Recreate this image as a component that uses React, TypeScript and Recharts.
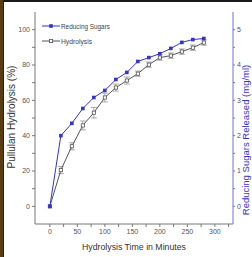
import {
  ComposedChart,
  Line,
  XAxis,
  YAxis,
  ErrorBar,
} from "recharts";

const minutes = [0, 20, 40, 60, 80, 100, 120, 140, 160, 180, 200, 220, 240, 260, 280];
const hydrolysis = [0, 20.5, 34, 45.8, 53, 61.6, 67.2, 71.2, 75.1, 80.2, 84.2, 85.3, 87.6, 89.8, 92.7];
const hydrolysisErr = [0, 2, 2, 2.5, 3, 2.5, 2, 2, 1.5, 1.5, 1.5, 1.5, 1.5, 1.5, 1.5];
const sugars = [0, 2.0, 2.35, 2.77, 3.08, 3.28, 3.59, 3.79, 4.1, 4.21, 4.32, 4.47, 4.64, 4.72, 4.75];

const xTicks = [0, 25, 50, 75, 100, 125, 150, 175, 200, 225, 250, 275, 300, 325];
const leftTicks = [0, 10, 20, 30, 40, 50, 60, 70, 80, 90, 100];
const rightTicks = [0, 0.5, 1, 1.5, 2, 2.5, 3, 3.5, 4, 4.5, 5];

const data = minutes.map((m, i) => ({
  minutes: m,
  hydrolysis: hydrolysis[i],
  err: hydrolysisErr[i],
  sugars: sugars[i],
}));

const BLUE = "#3434c8";
const DARK = "#555";
const AXIS = "#777";
const FONT = "'Liberation Sans', Arial, sans-serif";

const BlueDot = (p: any) =>
  p.cx == null ? null : (
    <rect key={p.index} x={p.cx - 1.8} y={p.cy - 1.8} width={3.6} height={3.6} fill={BLUE} />
  );

const OpenDot = (p: any) =>
  p.cx == null ? null : (
    <rect
      key={p.index}
      x={p.cx - 1.6}
      y={p.cy - 1.6}
      width={3.2}
      height={3.2}
      fill="#fff"
      stroke={DARK}
      strokeWidth={0.8}
    />
  );

function Overlay() {
  return (
    <svg
      width={252}
      height={257}
      style={{ position: "absolute", left: 0, top: 0, pointerEvents: "none" }}
      fontFamily={FONT}
    >
      <line x1={42} x2={60} y1={26} y2={26} stroke={BLUE} strokeWidth={1} />
      <rect x={49.2} y={24.2} width={3.6} height={3.6} fill={BLUE} />
      <text x={61} y={29} fontSize={7.5} fill="#444" textLength={49} lengthAdjust="spacingAndGlyphs">
        Reducing Sugars
      </text>
      <line x1={42} x2={60} y1={41} y2={41} stroke={DARK} strokeWidth={1} />
      <rect x={49.4} y={39.4} width={3.2} height={3.2} fill="#fff" stroke={DARK} strokeWidth={0.8} />
      <text x={61} y={44} fontSize={7.5} fill="#444" textLength={31} lengthAdjust="spacingAndGlyphs">
        Hydrolysis
      </text>
      <text
        transform="translate(15,117) rotate(-90)"
        textAnchor="middle"
        fontSize={10}
        fill="#333"
      >
        Pullulan Hydrolysis (%)
      </text>
      <text
        transform="translate(248.5,140) rotate(-90)"
        textAnchor="middle"
        fontSize={9.5}
        fill={BLUE}
      >
        Reducing Sugars Released (mg/ml)
      </text>
      <text x={134} y={250} textAnchor="middle" fontSize={9.5} fill="#333" textLength={104} lengthAdjust="spacingAndGlyphs">
        Hydrolysis Time in Minutes
      </text>
    </svg>
  );
}

export default function App() {
  return (
    <div
      style={{
        position: "absolute",
        left: 0,
        top: 0,
        width: 252,
        height: 257,
        background: "#fff",
        fontFamily: FONT,
      }}
    >
      <ComposedChart
        width={252}
        height={257}
        data={data}
        margin={{ top: 12, right: 0, bottom: 0, left: 0 }}
      >
        <XAxis
          xAxisId="bottom"
          dataKey="minutes"
          type="number"
          domain={[-27, 333]}
          ticks={xTicks}
          interval={0}
          allowDataOverflow
          height={33}
          stroke={AXIS}
          tickSize={3}
          tick={{ fontSize: 7, fill: "#555" }}
          tickFormatter={(v: number) => (v % 50 === 0 ? String(v) : "")}
        />
        <XAxis
          xAxisId="top"
          dataKey="minutes"
          type="number"
          orientation="top"
          domain={[-27, 333]}
          ticks={xTicks}
          interval={0}
          allowDataOverflow
          height={0}
          mirror
          stroke={AXIS}
          tickSize={3}
          tickFormatter={() => ""}
        />
        <YAxis
          yAxisId="left"
          domain={[-10, 110]}
          ticks={leftTicks}
          interval={0}
          width={35}
          stroke={AXIS}
          tickSize={3}
          tick={{ fontSize: 7, fill: "#555" }}
          tickFormatter={(v: number) => (v % 20 === 0 ? String(v) : "")}
        />
        <YAxis
          yAxisId="right"
          orientation="right"
          domain={[-0.5, 5.5]}
          ticks={rightTicks}
          interval={0}
          width={19}
          stroke="#7070d8"
          tickSize={2}
          tick={{ fontSize: 7, fill: "#555" }}
          tickFormatter={(v: number) => (Number.isInteger(v) ? String(v) : "")}
        />
        <Line
          xAxisId="bottom"
          yAxisId="left"
          dataKey="hydrolysis"
          stroke={DARK}
          strokeWidth={1}
          dot={OpenDot}
          activeDot={false}
          isAnimationActive={false}
        >
          <ErrorBar dataKey="err" width={3} stroke="#888" strokeWidth={0.7} />
        </Line>
        <Line
          xAxisId="bottom"
          yAxisId="right"
          dataKey="sugars"
          stroke={BLUE}
          strokeWidth={1}
          dot={BlueDot}
          activeDot={false}
          isAnimationActive={false}
        />
      </ComposedChart>
      <Overlay />
      <div style={{ position: "absolute", left: 0, top: 0, width: 252, height: 2, background: "#1a1a1a" }} />
      <div style={{ position: "absolute", left: 0, top: 0, width: 3, height: 257, background: "#5a3c12" }} />
      <div style={{ position: "absolute", left: 3, top: 0, width: 1, height: 257, background: "#222" }} />
    </div>
  );
}
